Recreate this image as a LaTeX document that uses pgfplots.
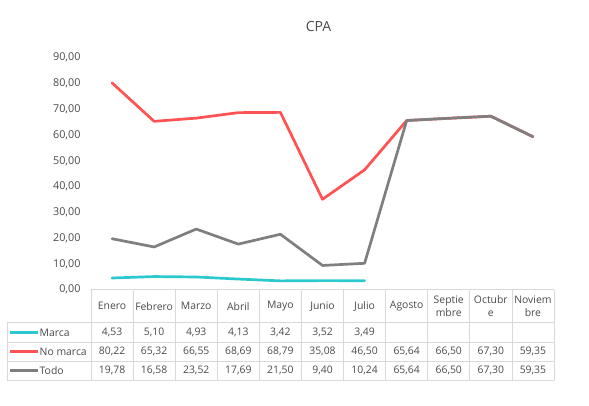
\documentclass[border=0pt]{standalone}
\usepackage{fontspec}
\setmainfont{Open Sans}
\usepackage{pgfplots}
\pgfplotsset{compat=1.18}
\definecolor{marca}{HTML}{2BC9CF}
\definecolor{nomarca}{HTML}{FF5252}
\definecolor{todo}{HTML}{7F7F7F}
\definecolor{txt}{HTML}{4A4A4A}
\definecolor{gridc}{HTML}{D9D9D9}
\begin{document}
\begin{tikzpicture}[x=1pt,y=1pt]
\path[use as bounding box] (0,0) rectangle (589,406);
\begin{axis}[at={(91pt,116.3pt)}, anchor=south west, scale only axis,
  width=463pt, height=232pt,
  xmin=-0.5, xmax=10.5, ymin=0, ymax=90,
  axis line style={draw=none}, xtick=\empty, ytick={0,10,...,90},
  major tick length=0pt, clip=false,
  yticklabel style={font=\fontsize{10.8}{13}\selectfont, text=txt, xshift=-7pt,
    /pgf/number format/.cd, fixed, fixed zerofill, precision=2, use comma, assume math mode=true},
  every axis plot/.append style={line width=2.7pt, line join=round, line cap=round, mark=none}]
\addplot[marca] coordinates {(0,4.53)(1,5.10)(2,4.93)(3,4.13)(4,3.42)(5,3.52)(6,3.49)};
\addplot[nomarca] coordinates {(0,80.22)(1,65.32)(2,66.55)(3,68.69)(4,68.79)(5,35.08)(6,46.50)(7,65.64)(8,66.50)(9,67.30)(10,59.35)};
\addplot[todo] coordinates {(0,19.78)(1,16.58)(2,23.52)(3,17.69)(4,21.50)(5,9.40)(6,10.24)(7,65.64)(8,66.50)(9,67.30)(10,59.35)};
\end{axis}
% table grid
\begin{scope}[draw=gridc, line width=0.8pt]
\foreach \k in {0,...,11} {
  \pgfmathsetmacro\xx{91+42.09*\k}
  \draw (\xx,26) -- (\xx,116.3);
}
\draw (91,116.3) -- (554,116.3);
\foreach \yy in {83.3,64,45,26} { \draw (7,\yy) -- (554,\yy); }
\draw (7,26) -- (7,83.3);
\end{scope}
\begin{scope}[every node/.style={font=\fontsize{10.4}{12.5}\selectfont, text=txt, inner sep=0pt}]
\foreach \m [count=\i from 0] in {Enero,Febrero,Marzo,Abril,Mayo,Junio,Julio,Agosto,Septie\\mbre,Octubr\\e,Noviem\\bre} {
  \pgfmathsetmacro\xc{91+42.09*(\i+0.5)}
  \node[align=center] at (\xc,99.8) {\m};
}
\foreach \v [count=\i from 0] in {{4,53},{5,10},{4,93},{4,13},{3,42},{3,52},{3,49}} {
  \pgfmathsetmacro\xc{91+42.09*(\i+0.5)}
  \node at (\xc,73.6) {\v};
}
\foreach \v [count=\i from 0] in {{80,22},{65,32},{66,55},{68,69},{68,79},{35,08},{46,50},{65,64},{66,50},{67,30},{59,35}} {
  \pgfmathsetmacro\xc{91+42.09*(\i+0.5)}
  \node at (\xc,54.5) {\v};
}
\foreach \v [count=\i from 0] in {{19,78},{16,58},{23,52},{17,69},{21,50},{9,40},{10,24},{65,64},{66,50},{67,30},{59,35}} {
  \pgfmathsetmacro\xc{91+42.09*(\i+0.5)}
  \node at (\xc,35.5) {\v};
}
\draw[marca, line width=2.7pt] (10,73.6) -- (38,73.6);
\draw[nomarca, line width=2.7pt] (10,54.5) -- (38,54.5);
\draw[todo, line width=2.7pt] (10,35.5) -- (38,35.5);
\node[anchor=west] at (39.5,73.6) {Marca};
\node[anchor=west] at (39.5,54.5) {No marca};
\node[anchor=west] at (39.5,35.5) {Todo};
\node[font=\fontsize{14}{17}\selectfont] at (318.5,379) {CPA};
\end{scope}
\end{tikzpicture}
\end{document}
